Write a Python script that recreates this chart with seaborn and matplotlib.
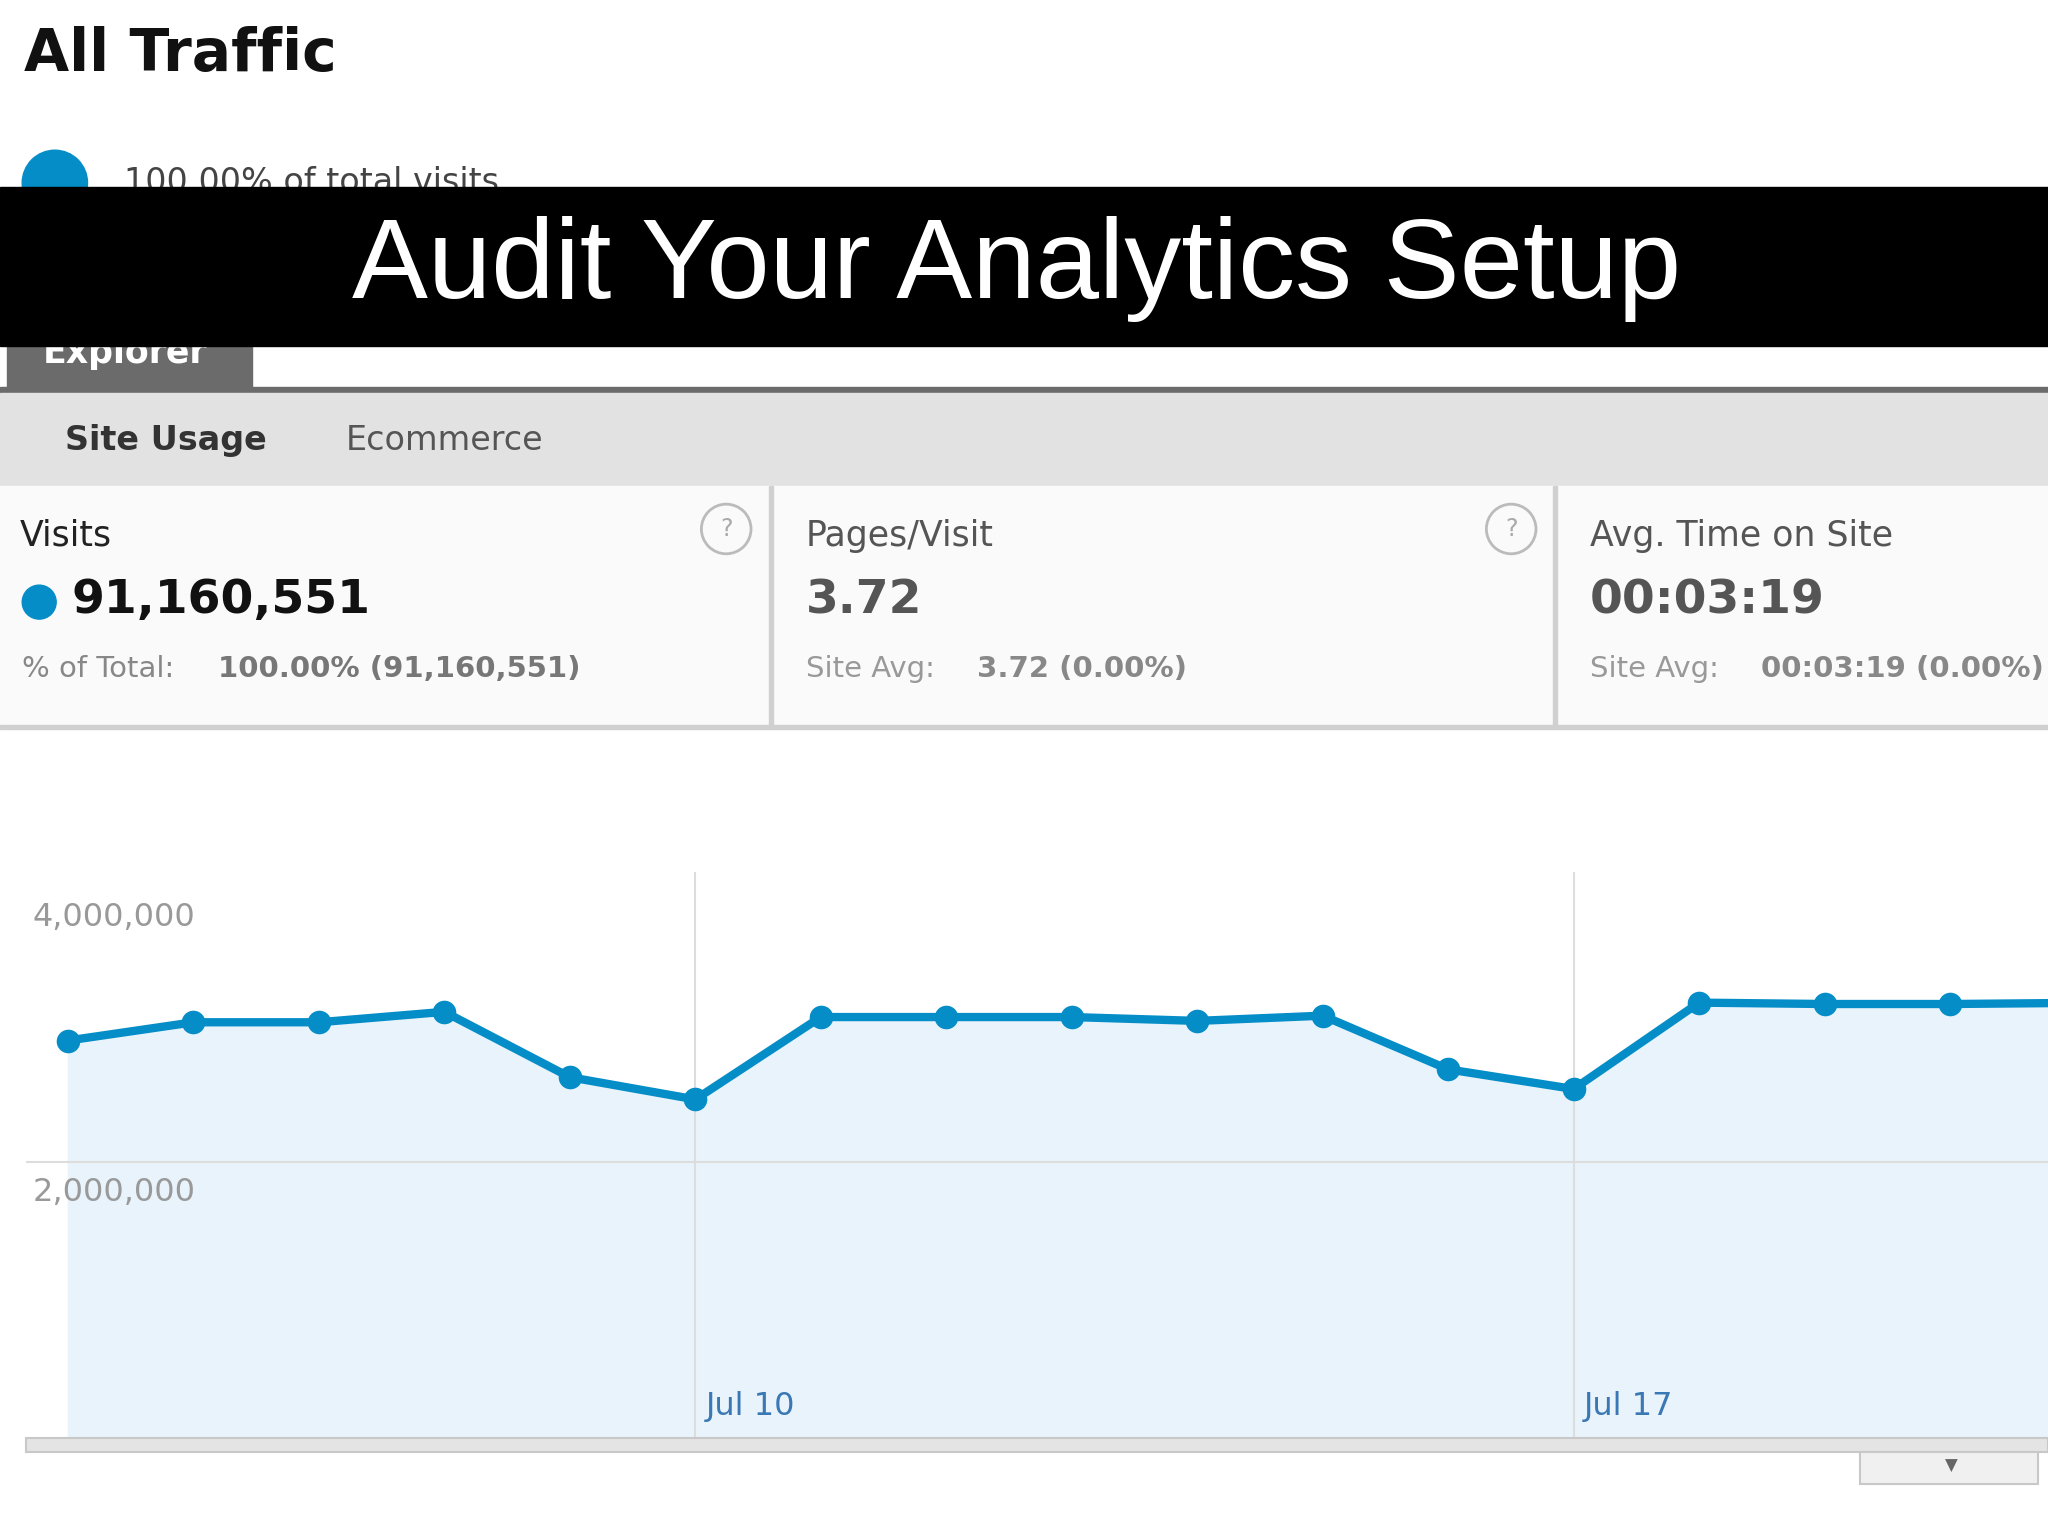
import matplotlib
matplotlib.use("Agg")
import matplotlib.pyplot as plt
import seaborn as sns
import pandas as pd
from matplotlib.patches import Rectangle, Ellipse

dates = ["Jul 5","Jul 6","Jul 7","Jul 8","Jul 9","Jul 10","Jul 11","Jul 12","Jul 13",
         "Jul 14","Jul 15","Jul 16","Jul 17","Jul 18","Jul 19","Jul 20","Jul 21"]
visits = [2886000,3019000,3019000,3095000,2619000,2457000,3057000,3057000,3057000,
          3029000,3067000,2676000,2533000,3162000,3152000,3152000,3160000]
ytick_vals = [2000000, 4000000]
ytick_labels = ["2,000,000", "4,000,000"]
xtick_labels = ["Jul 10", "Jul 17"]

sns.set_theme(style="white")
plt.rcParams['font.family'] = ['DejaVu Sans']
W, H = 1568, 1176
fig = plt.figure(figsize=(20.48, 15.36), dpi=100)
fig.patch.set_facecolor("white")

def fx(x): return x / W
def fy(y): return 1 - y / H
def rect(x0, y0, x1, y1, **kw):
    fig.patches.append(Rectangle((fx(x0), fy(y1)), fx(x1) - fx(x0), fy(y0) - fy(y1),
                                 transform=fig.transFigure, **kw))
def circ(x, y, r, **kw):
    fig.patches.append(Ellipse((fx(x), fy(y)), 2 * r / W, 2 * r / H,
                               transform=fig.transFigure, **kw))
def txt(x, y, s, **kw):
    fig.text(fx(x), fy(y), s, **kw)

# header
txt(18, 42, "All Traffic", fontsize=42, fontweight="bold", va="center", color="#111")
circ(42, 140, 25, color="#058dc7")
txt(95, 140, "100.00% of total visits", fontsize=24, va="center", color="#444")
# explorer tab
rect(5, 240, 193, 298, color="#6b6b6b")
txt(33, 270, "Explorer", fontsize=25, fontweight="bold", color="white", va="center")
rect(0, 296, W, 301, color="#6b6b6b")
# tab row
rect(0, 301, W, 372, color="#e2e2e2")
txt(50, 337, "Site Usage", fontsize=24, fontweight="bold", color="#333", va="center")
txt(265, 337, "Ecommerce", fontsize=24, color="#555", va="center")
# metric boxes
rect(0, 372, W, 557, color="#fafafa")
rect(589, 372, 592, 557, color="#d0d0d0")
rect(1189, 372, 1192, 557, color="#d0d0d0")
rect(0, 555, W, 558, color="#d0d0d0")
txt(15, 410, "Visits", fontsize=25, color="#222", va="center")
circ(30, 461, 13, color="#058dc7")
txt(55, 460, "91,160,551", fontsize=34, fontweight="bold", color="#111", va="center")
txt(17, 512, "% of Total:", fontsize=21, color="#888", va="center")
txt(167, 512, "100.00% (91,160,551)", fontsize=21, color="#777", fontweight="bold", va="center")
txt(617, 410, "Pages/Visit", fontsize=25, color="#555", va="center")
txt(617, 460, "3.72", fontsize=34, fontweight="bold", color="#555", va="center")
txt(617, 512, "Site Avg:", fontsize=21, color="#999", va="center")
txt(748, 512, "3.72 (0.00%)", fontsize=21, color="#888", fontweight="bold", va="center")
txt(1217, 410, "Avg. Time on Site", fontsize=25, color="#555", va="center")
txt(1217, 460, "00:03:19", fontsize=34, fontweight="bold", color="#555", va="center")
txt(1217, 512, "Site Avg:", fontsize=21, color="#999", va="center")
txt(1348, 512, "00:03:19 (0.00%)", fontsize=21, color="#888", fontweight="bold", va="center")
for qx in (556, 1157):
    circ(qx, 405, 19, fill=False, ec="#bbb", lw=2)
    txt(qx, 405, "?", fontsize=17, color="#aaa", ha="center", va="center")

# chart
ax = fig.add_axes([fx(20), fy(1100), fx(1568) - fx(20), fy(668) - fy(1100)])
df = pd.DataFrame({"i": range(len(dates)), "visits": visits})
ax.fill_between(df["i"], df["visits"], 0, color="#e8f3fb", zorder=1)
sns.lineplot(data=df, x="i", y="visits", ax=ax, color="#058dc7", lw=6,
             marker="o", markersize=17, markeredgewidth=0, zorder=3)
ax.set_xlim(-0.333, 15.78)
ax.set_ylim(0, 4110000)
ax.set_xticks([]); ax.set_yticks([])
ax.set_xlabel(""); ax.set_ylabel("")
for s in ax.spines.values():
    s.set_visible(False)
for v, lab in zip(ytick_vals, ytick_labels):
    if v < 4000000:
        ax.axhline(v, color="#dddddd", lw=1.5, zorder=2)
    ax.text(0.003, v - 220000, lab, transform=ax.get_yaxis_transform(),
            fontsize=23, color="#999", va="center", ha="left", zorder=4)
for lab in xtick_labels:
    i = dates.index(lab)
    ax.axvline(i, color="#dddddd", lw=1.5, zorder=2)
    ax.text(i + 0.08, 220000, lab, fontsize=23, color="#3a78b5", va="center", ha="left", zorder=4)
# bottom scrollbar
rect(20, 1101, W, 1112, color="#e4e4e4", ec="#c8c8c8", lw=1.5)
rect(1424, 1112, 1560, 1136, color="#f0f0f0", ec="#c8c8c8", lw=1.5)
txt(1494, 1122, "▼", fontsize=12, color="#666", ha="center", va="center")

# black banner
rect(0, 143, W, 265, color="black", zorder=10)
fig.text(fx(778), fy(206), "Audit Your Analytics Setup", fontsize=82, color="white",
         ha="center", va="center", family=["Liberation Sans"], zorder=11)

fig.savefig("out.png", dpi=100, facecolor="white")
